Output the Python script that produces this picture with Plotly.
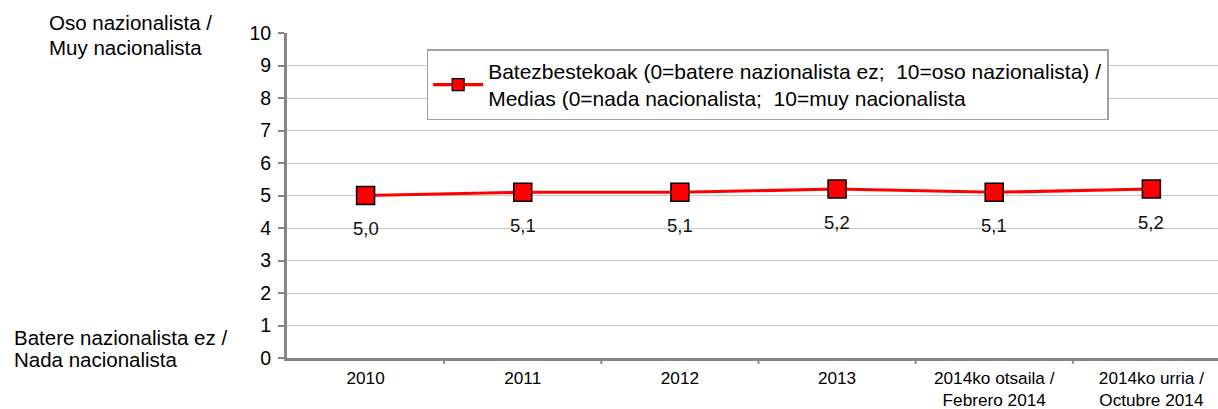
import plotly.graph_objects as go

categories = ["2010", "2011", "2012", "2013",
              "2014ko otsaila /<br>Febrero 2014", "2014ko urria /<br>Octubre 2014"]
values = [5.0, 5.1, 5.1, 5.2, 5.1, 5.2]
y_ticks = list(range(0, 11))
series_name = ("Batezbestekoak (0=batere nazionalista ez;  10=oso nazionalista) /<br>"
               "Medias (0=nada nacionalista;  10=muy nacionalista")
top_caption = ["Oso nazionalista /", "Muy nacionalista"]
bottom_caption = ["Batere nazionalista ez /", "Nada nacionalista"]

FONT = "Liberation Sans, Arial, sans-serif"
RED = "#ff0000"

fig = go.Figure()
fig.add_trace(go.Scatter(
    x=list(range(len(categories))), y=values, mode="lines+markers",
    name=series_name, showlegend=False,
    line=dict(color=RED, width=3.2),
    marker=dict(symbol="square", size=18, color=RED,
                line=dict(color="#000000", width=1.5)),
))
# legend entry with a smaller swatch marker
fig.add_trace(go.Scatter(
    x=[None], y=[None], mode="lines+markers", name=series_name,
    line=dict(color=RED, width=3.2),
    marker=dict(symbol="square", size=12, color=RED,
                line=dict(color="#000000", width=1.2)),
))

# value labels under each point
for i, v in enumerate(values):
    fig.add_annotation(x=i, y=v, text=f"{v:.1f}".replace(".", ","),
                       showarrow=False, yshift=-33,
                       font=dict(family=FONT, size=18.5, color="#111111"))

# end-of-scale captions, one annotation per line for tighter leading
cap_font = dict(family=FONT, size=20.5, color="#000000")
for line, yp in zip(top_caption, [1.032, 0.955]):
    fig.add_annotation(xref="paper", yref="paper", x=-0.258, y=yp,
                       xanchor="left", yanchor="middle", showarrow=False,
                       text=line, font=cap_font)
for line, yp in zip(bottom_caption, [0.062, -0.006]):
    fig.add_annotation(xref="paper", yref="paper", x=-0.2954, y=yp,
                       xanchor="left", yanchor="middle", showarrow=False,
                       text=line, font=cap_font)

fig.update_layout(
    width=1218, height=409,
    margin=dict(l=287, r=0, t=33, b=51),
    plot_bgcolor="white", paper_bgcolor="white",
    font=dict(family=FONT, size=18, color="#000000"),
    showlegend=True,
    legend=dict(x=0.150, y=0.95, xanchor="left", yanchor="top",
                bgcolor="white", bordercolor="#a0a0a0", borderwidth=1.5,
                font=dict(family=FONT, size=21, color="#000000"),
                itemwidth=50, tracegroupgap=0),
    xaxis=dict(
        tickmode="array", tickvals=list(range(len(categories))), ticktext=categories,
        range=[-0.5, 5.424], showgrid=False, zeroline=False, automargin=False,
        showline=True, linecolor="#868686", linewidth=3,
        ticks="", tickfont=dict(family=FONT, size=17.2), ticklabelstandoff=2,
    ),
    yaxis=dict(
        range=[0, 10], tickvals=y_ticks, showgrid=True, gridcolor="#c8c8c8", gridwidth=1.2,
        zeroline=False, showline=True, linecolor="#868686", linewidth=3, automargin=False,
        ticks="outside", ticklen=6, tickwidth=2, tickcolor="#868686",
        tickfont=dict(family=FONT, size=19.5), ticklabelstandoff=3,
    ),
)

# category boundary ticks on the x axis
for b in [0.5, 1.5, 2.5, 3.5, 4.5]:
    fig.add_shape(type="line", xref="x", yref="paper", x0=b, x1=b, y0=0, y1=-0.018,
                  line=dict(color="#868686", width=2))

fig.write_html("out.html")
